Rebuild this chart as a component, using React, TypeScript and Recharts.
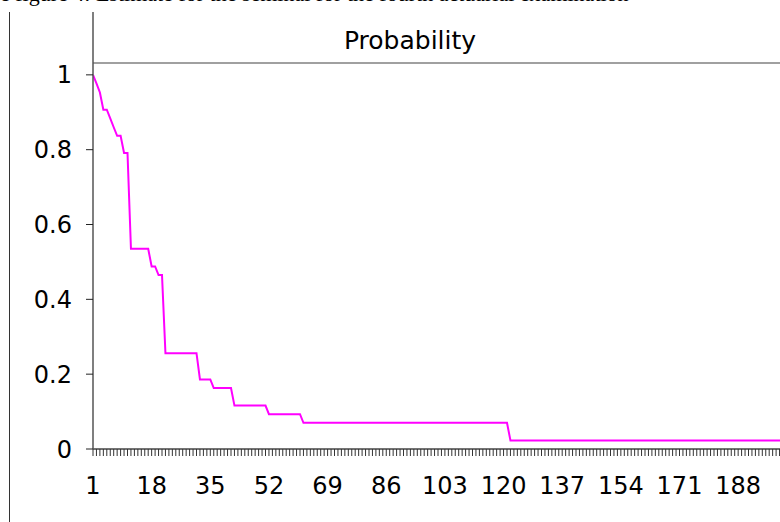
import { LineChart, Line, XAxis, YAxis, ReferenceLine } from "recharts"

// survival step curve, vertices
const periods = [1, 2, 3, 4, 5, 6, 7, 8, 9, 10, 11, 12, 17, 18, 19, 20, 21, 22, 31, 32, 35, 36, 41, 42, 51, 52, 61, 62, 121, 122, 201]
const probability = [
  1.0, 0.977, 0.953, 0.907, 0.907, 0.884, 0.86, 0.837, 0.837, 0.791, 0.791, 0.535, 0.535, 0.488, 0.488, 0.465,
  0.465, 0.256, 0.256, 0.186, 0.186, 0.163, 0.163, 0.116, 0.116, 0.093, 0.093, 0.07, 0.07, 0.023, 0.023,
]

const xLabels = [1, 18, 35, 52, 69, 86, 103, 120, 137, 154, 171, 188]
const yTicks = [0, 0.2, 0.4, 0.6, 0.8, 1]

const data = periods.map((p, i) => ({ period: p, probability: probability[i] }))
const minorTicks = Array.from({ length: 201 }, (_, i) => i + 1)

const font = "'DejaVu Sans', Verdana, sans-serif"

export default function App() {
  return (
    <div
      style={{
        position: "absolute",
        left: 0,
        top: 0,
        width: 780,
        height: 522,
        overflow: "hidden",
        background: "#fff",
      }}
    >
      <div
        style={{
          position: "absolute",
          left: 0,
          top: -17,
          whiteSpace: "nowrap",
          fontFamily: "'Liberation Serif', 'Times New Roman', serif",
          fontSize: 22,
          lineHeight: "22px",
          color: "#000",
        }}
      >
        e figure 4: Estimate for the seminal for the fourth actuarial examination
      </div>
      <div
        style={{
          position: "absolute",
          left: 9,
          top: 12,
          width: 0,
          height: 510,
          borderLeft: "1.5px solid #333",
        }}
      />
      <LineChart width={783} height={522} data={data} margin={{ top: 12, right: 0, bottom: 0, left: 0 }}>
        <XAxis
          type="number"
          dataKey="period"
          domain={[1, 201]}
          allowDataOverflow
          ticks={minorTicks}
          interval={0}
          tickFormatter={(v: number) => (xLabels.includes(v) ? String(v) : "")}
          tickSize={7}
          tickMargin={21}
          height={73}
          axisLine={{ stroke: "#444", strokeWidth: 1.5 }}
          tickLine={{ stroke: "#333" }}
          tick={{ fill: "#000", fontSize: 24, fontFamily: font }}
        />
        <YAxis
          type="number"
          domain={[0, 1.168]}
          allowDataOverflow
          ticks={yTicks}
          interval={0}
          width={93}
          tickSize={7}
          tickMargin={14}
          axisLine={{ stroke: "#555", strokeWidth: 1.5 }}
          tickLine={{ stroke: "#222" }}
          tick={{ fill: "#000", fontSize: 24, fontFamily: font }}
        />
        <ReferenceLine y={1.032} stroke="#808080" strokeWidth={1.5} />
        <Line
          type="linear"
          dataKey="probability"
          stroke="#ff00ff"
          strokeWidth={2}
          dot={false}
          isAnimationActive={false}
        />
      </LineChart>
      <div
        style={{
          position: "absolute",
          left: 0,
          width: 820,
          top: 28,
          textAlign: "center",
          fontFamily: font,
          fontSize: 25,
          lineHeight: "25px",
          color: "#000",
        }}
      >
        Probability
      </div>
    </div>
  )
}
